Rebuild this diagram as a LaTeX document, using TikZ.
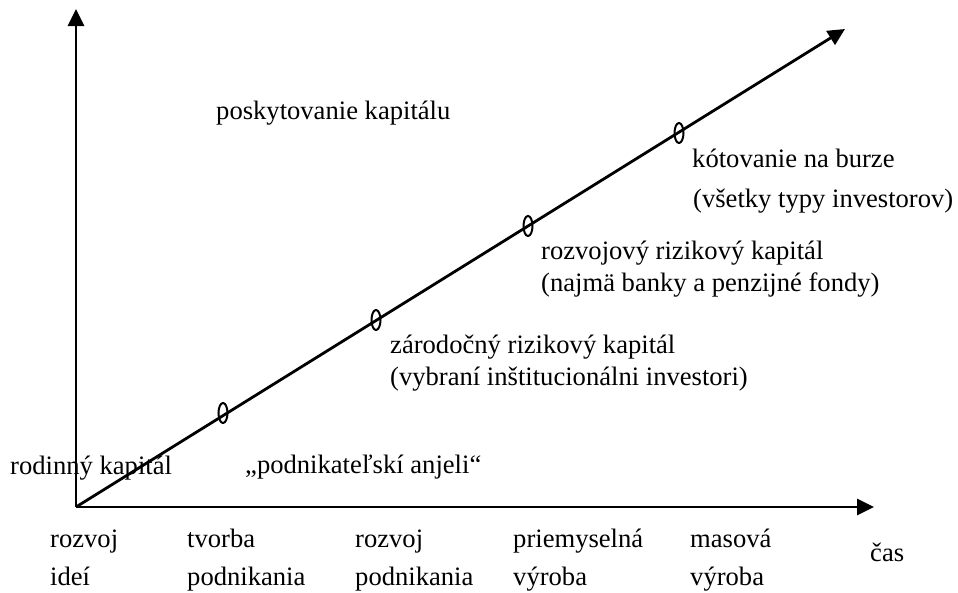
\documentclass[tikz,border=0pt]{standalone}
\usepackage{fontspec}
\newfontfamily\tnr{Liberation Serif}
\usetikzlibrary{arrows.meta,shapes.geometric}
\tikzset{
  axis/.style={line width=2.8pt,-{Triangle[length=17pt,width=16pt]}},
  lbl/.style={anchor=base west,inner sep=0pt,font=\tnr\fontsize{26.6}{30}\selectfont},
  ring/.style={ellipse,draw,line width=2pt,minimum width=9pt,minimum height=20pt,inner sep=0pt}
}
\begin{document}
\begin{tikzpicture}[x=1pt,y=-1pt]
\useasboundingbox (0,0) rectangle (958,592);
\coordinate (O) at (76,507);
\coordinate (Y) at (76,9);
\coordinate (X) at (874,507);
\coordinate (D) at (845,29);
\draw[axis] (O) -- (Y);
\draw[axis] (O) -- (X);
\draw[axis] (O) -- (D);
\node[ring] (e1) at (223,413) {};
\node[ring] (e2) at (376,320) {};
\node[ring] (e3) at (528,226) {};
\node[ring] (e4) at (679,133) {};
\node[lbl] (t0) at (216,119) {poskytovanie kapitálu};
\node[lbl] (t1) at (692,167) {kótovanie na burze};
\node[lbl] (t1b) at (693,207) {(všetky typy investorov)};
\node[lbl] (t2) at (541,259) {rozvojový rizikový kapitál};
\node[lbl] (t2b) at (541,291) {(najmä banky a penzijné fondy)};
\node[lbl] (t3) at (390,353) {zárodočný rizikový kapitál};
\node[lbl] (t3b) at (390,385) {(vybraní inštitucionálni investori)};
\node[lbl] (t4) at (245,473) {„podnikateľskí anjeli“};
\node[lbl] (t5) at (10,474) {rodinný kapitál};
\node[lbl] (b1) at (50,547) {rozvoj};
\node[lbl] (b1b) at (50,585) {ideí};
\node[lbl] (b2) at (187,547) {tvorba};
\node[lbl] (b2b) at (187,585) {podnikania};
\node[lbl] (b3) at (355,547) {rozvoj};
\node[lbl] (b3b) at (355,585) {podnikania};
\node[lbl] (b4) at (513,547) {priemyselná};
\node[lbl] (b4b) at (513,585) {výroba};
\node[lbl] (b5) at (690,547) {masová};
\node[lbl] (b5b) at (690,585) {výroba};
\node[lbl] (cas) at (870,561) {čas};
\end{tikzpicture}
\end{document}
